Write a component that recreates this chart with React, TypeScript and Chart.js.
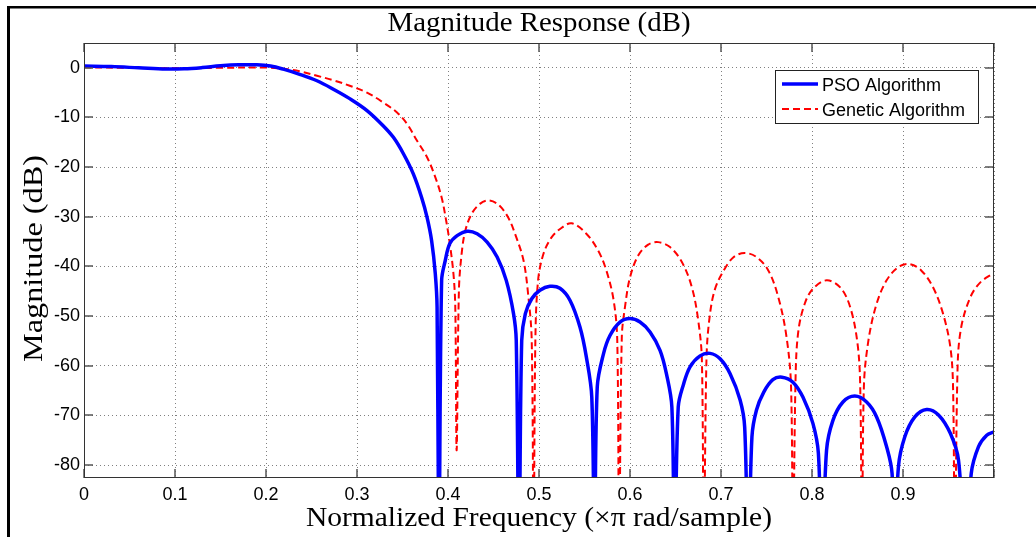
import { useEffect, useRef } from 'react';
import { Chart, registerables } from 'chart.js';

Chart.register(...registerables);

// ---- Data ----
const psoFreq = [
  0.0, 0.03, 0.06, 0.09, 0.11, 0.13, 0.15, 0.17, 0.19, 0.205, 0.219, 0.237, 0.256, 0.274, 0.292,
  0.311, 0.329, 0.34, 0.351, 0.362, 0.371, 0.377, 0.382, 0.386, 0.388, 0.39, 0.393, 0.397, 0.402,
  0.41, 0.421, 0.432, 0.443, 0.454, 0.464, 0.472, 0.475, 0.478, 0.481, 0.485, 0.492, 0.501, 0.512,
  0.523, 0.534, 0.545, 0.552, 0.558, 0.561, 0.564, 0.571, 0.578, 0.589, 0.6, 0.611, 0.622, 0.633,
  0.64, 0.646, 0.649, 0.653, 0.659, 0.666, 0.677, 0.688, 0.699, 0.71, 0.721, 0.726, 0.73, 0.734,
  0.739, 0.747, 0.757, 0.767, 0.779, 0.79, 0.801, 0.807, 0.811, 0.816, 0.823, 0.834, 0.847, 0.86,
  0.871, 0.882, 0.888, 0.89, 0.895, 0.902, 0.913, 0.926, 0.939, 0.952, 0.961, 0.969, 0.975, 0.983,
  0.992, 1.0,
];
const psoDb = [
  0.35, 0.25, 0.0, -0.25, -0.2, 0.05, 0.4, 0.6, 0.6, 0.35, -0.27, -1.3, -2.6, -4.3, -6.2,
  -8.6, -11.7, -14.0, -17.3, -21.4, -26.1, -30.1, -34.8, -41.4, -48.2, -100, -42.8, -38.8, -35.4,
  -33.8, -32.9, -33.4, -35.1, -38.1, -42.8, -49.5, -54.9, -100, -54.9, -49.5, -46.5, -44.8, -44.0,
  -44.4, -46.8, -52.2, -58.2, -66.3, -100, -64.3, -57.5, -53.9, -51.2, -50.5, -51.2, -53.2, -56.9,
  -61.6, -68.3, -100, -68.3, -63.6, -60.2, -58.0, -57.5, -58.6, -61.6, -66.9, -72.3, -100, -74.3,
  -68.9, -65.3, -62.8, -62.3, -63.3, -66.3, -71.6, -77.6, -100, -77.0, -71.0, -67.3, -66.1, -67.3,
  -70.3, -76.3, -81.7, -100, -80.3, -74.3, -70.3, -68.8, -69.9, -73.6, -79.0, -100, -81.7, -76.3,
  -74.0, -73.3,
];

const gaFreq = [
  0.0, 0.05, 0.1, 0.15, 0.2, 0.219, 0.237, 0.256, 0.274, 0.292, 0.311, 0.329, 0.344, 0.355, 0.366,
  0.377, 0.386, 0.393, 0.398, 0.402, 0.406, 0.408, 0.4095, 0.412, 0.415, 0.419, 0.426, 0.435, 0.444,
  0.455, 0.466, 0.475, 0.483, 0.488, 0.492, 0.494, 0.496, 0.499, 0.505, 0.514, 0.525, 0.536, 0.552,
  0.565, 0.574, 0.582, 0.586, 0.588, 0.591, 0.595, 0.6, 0.609, 0.62, 0.631, 0.644, 0.657, 0.668,
  0.675, 0.679, 0.681, 0.684, 0.687, 0.693, 0.703, 0.714, 0.726, 0.739, 0.752, 0.763, 0.772, 0.777,
  0.779, 0.782, 0.785, 0.792, 0.801, 0.816, 0.831, 0.842, 0.85, 0.853, 0.855, 0.857, 0.862, 0.871,
  0.882, 0.895, 0.907, 0.92, 0.933, 0.944, 0.952, 0.955, 0.957, 0.96, 0.964, 0.974, 0.985, 1.0,
];
const gaDb = [
  0.1, 0.0, -0.1, 0.0, 0.05, -0.2, -0.7, -1.6, -2.5, -3.6, -5.0, -7.0, -9.0, -11.3, -14.7,
  -18.0, -22.0, -26.1, -30.8, -35.4, -41.5, -48.2, -77, -44.8, -37.4, -32.8, -29.4, -27.4, -26.7,
  -27.5, -30.1, -34.1, -38.8, -45.5, -54.9, -100, -54.9, -42.8, -37.4, -34.1, -32.2, -31.3, -33.4,
  -36.8, -40.8, -46.8, -54.9, -100, -54.2, -47.5, -42.2, -37.8, -35.6, -35.1, -36.1, -39.1, -44.2,
  -50.9, -58.9, -100, -58.9, -50.9, -44.8, -40.8, -38.1, -37.3, -38.1, -40.8, -46.2, -54.2, -64.3,
  -100, -62.0, -53.0, -47.5, -44.5, -42.8, -44.2, -48.2, -55.5, -64.3, -100, -64.3, -54.9, -47.5,
  -42.8, -40.1, -39.5, -40.8, -44.2, -49.5, -56.2, -64.3, -100, -60.2, -52.2, -46.2, -43.2, -41.3,
];

const seriesLabels = ['PSO Algorithm', 'Genetic Algorithm'];
const titleText = 'Magnitude Response (dB)';
const xLabelText = 'Normalized Frequency (\u00d7\u03c0 rad/sample)';
const yLabelText = 'Magnitude (dB)';
const xRange = [0, 1];
const yRange = [-82.6, 5];
const xStep = 0.1;
const yStep = 10;

const SANS = "'Liberation Sans', Arial, sans-serif";
const SERIF = "'Liberation Serif', 'Times New Roman', serif";

function fitText(
  ctx: CanvasRenderingContext2D,
  text: string,
  x: number,
  y: number,
  width: number,
  font: string,
  rotate: number,
) {
  ctx.save();
  ctx.font = font;
  const w = ctx.measureText(text).width;
  ctx.translate(x, y);
  if (rotate) ctx.rotate(rotate);
  ctx.scale(width / w, 1);
  ctx.textAlign = 'center';
  ctx.textBaseline = 'alphabetic';
  ctx.fillStyle = '#000';
  ctx.fillText(text, 0, 0);
  ctx.restore();
}

const decorPlugin = {
  id: 'decor',
  afterDraw(chart: any) {
    const { ctx, chartArea: a, scales } = chart;
    const xs = scales.x;
    const ys = scales.y;
    ctx.save();

    // outer frame (top and left black lines)
    ctx.fillStyle = '#000';
    ctx.fillRect(7, 6, 1029, 2.5);
    ctx.fillRect(7, 6, 3, 531);

    // tick marks (inward, on all four sides)
    const tl = 9;
    ctx.strokeStyle = '#555';
    ctx.lineWidth = 1.5;
    ctx.beginPath();
    xs.ticks.forEach((t: any) => {
      const px = Math.round(xs.getPixelForValue(t.value));
      ctx.moveTo(px, a.bottom);
      ctx.lineTo(px, a.bottom - tl);
      ctx.moveTo(px, a.top);
      ctx.lineTo(px, a.top + tl);
    });
    ys.ticks.forEach((t: any) => {
      const py = Math.round(ys.getPixelForValue(t.value));
      ctx.moveTo(a.left, py);
      ctx.lineTo(a.left + tl, py);
      ctx.moveTo(a.right, py);
      ctx.lineTo(a.right - tl, py);
    });
    ctx.stroke();

    // axes box
    ctx.strokeStyle = '#333';
    ctx.lineWidth = 1;
    ctx.strokeRect(Math.round(a.left) + 0.5, Math.round(a.top) + 0.5,
      Math.round(a.right - a.left) - 1, Math.round(a.bottom - a.top) - 1);

    // legend
    const lx = 775, ly = 70, lw = 203, lh = 53;
    ctx.fillStyle = '#fff';
    ctx.fillRect(lx, ly, lw, lh);
    ctx.strokeStyle = '#222';
    ctx.lineWidth = 1;
    ctx.strokeRect(lx + 0.5, ly + 0.5, lw, lh);
    const ds = chart.data.datasets;
    const rows = [84, 109];
    ds.forEach((d: any, i: number) => {
      ctx.save();
      ctx.strokeStyle = d.borderColor;
      ctx.lineWidth = d.borderWidth;
      ctx.setLineDash(d.borderDash || []);
      ctx.beginPath();
      ctx.moveTo(782, rows[i]);
      ctx.lineTo(818, rows[i]);
      ctx.stroke();
      ctx.restore();
      ctx.fillStyle = '#000';
      ctx.font = `18px ${SANS}`;
      ctx.textAlign = 'left';
      ctx.textBaseline = 'alphabetic';
      ctx.fillText(d.label, 822, rows[i] + 7);
    });

    // title and axis labels
    const cx = (a.left + a.right) / 2;
    const cy = (a.top + a.bottom) / 2;
    fitText(ctx, titleText, cx, 31, 303, `28px ${SERIF}`, 0);
    fitText(ctx, xLabelText, cx, 526, 466, `28px ${SERIF}`, 0);
    fitText(ctx, yLabelText, 41.5, cy - 2, 207, `28px ${SERIF}`, -Math.PI / 2);

    ctx.restore();
  },
};

export default function App() {
  const ref = useRef<HTMLCanvasElement | null>(null);

  useEffect(() => {
    const canvas = ref.current;
    if (!canvas) return;
    const chart = new Chart(canvas, {
      type: 'line',
      data: {
        datasets: [
          {
            label: seriesLabels[0],
            data: psoFreq.map((f, i) => ({ x: f, y: psoDb[i] })),
            borderColor: '#0000ff',
            borderWidth: 3.5,
            pointRadius: 0,
            tension: 0.35,
            borderJoinStyle: 'round',
            clip: 0,
          },
          {
            label: seriesLabels[1],
            data: gaFreq.map((f, i) => ({ x: f, y: gaDb[i] })),
            borderColor: '#ff0000',
            borderWidth: 2,
            borderDash: [7, 4],
            pointRadius: 0,
            tension: 0.35,
            clip: 0,
          },
        ],
      },
      options: {
        responsive: false,
        animation: false,
        devicePixelRatio: 1,
        layout: { padding: { top: 43, right: 42, left: 0, bottom: 0 } },
        plugins: {
          legend: { display: false },
          title: { display: false },
          tooltip: { enabled: false },
        },
        events: [],
        scales: {
          x: {
            type: 'linear',
            min: xRange[0],
            max: xRange[1],
            afterFit: (s: any) => { s.height = 59; },
            ticks: {
              stepSize: xStep,
              includeBounds: false,
              autoSkip: false,
              maxRotation: 0,
              padding: 6,
              color: '#000',
              font: { family: SANS, size: 18 },
              callback: (v: any) => (Number(v) >= 0.999 ? '' : String(Number(Number(v).toFixed(1)))),
            },
            grid: { color: '#808080', lineWidth: 1, drawTicks: false },
            border: { display: false, dash: [1, 3] },
          },
          y: {
            type: 'linear',
            min: yRange[0],
            max: yRange[1],
            afterFit: (s: any) => { s.width = 84; },
            ticks: {
              stepSize: yStep,
              includeBounds: false,
              autoSkip: false,
              padding: 4,
              color: '#000',
              font: { family: SANS, size: 18 },
              callback: (v: any) => String(Math.round(Number(v))),
            },
            grid: { color: '#808080', lineWidth: 1, drawTicks: false },
            border: { display: false, dash: [1, 3] },
          },
        },
      },
      plugins: [decorPlugin],
    } as any);
    return () => chart.destroy();
  }, []);

  return (
    <div style={{ position: 'fixed', left: 0, top: 0, width: 1036, height: 537, background: '#fff' }}>
      <canvas ref={ref} width={1036} height={537} style={{ display: 'block' }} />
    </div>
  );
}
